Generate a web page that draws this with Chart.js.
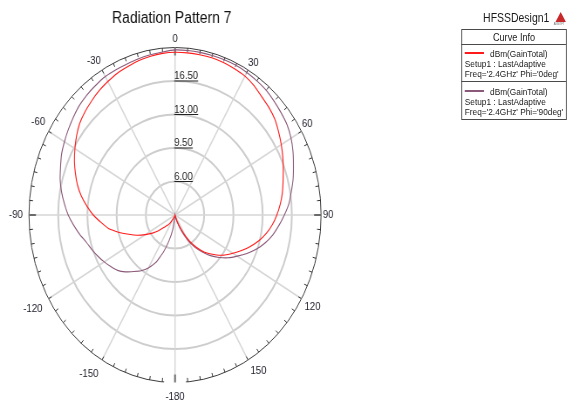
<!DOCTYPE html>
<html><head><meta charset="utf-8">
<script src="https://cdn.jsdelivr.net/npm/chart.js@4.4.1/dist/chart.umd.min.js"></script>
<style>
html,body{margin:0;padding:0;background:#fff;overflow:hidden;width:567px;height:401px;}
#stage{position:absolute;left:0;top:0;width:650px;height:401px;transform:scaleX(0.872);transform-origin:0 0;font-family:"Liberation Sans",Arial,sans-serif;color:#1a1a1a;}
#plot{position:absolute;left:0;top:0;}
.t{position:absolute;white-space:nowrap;line-height:1;}
.hl{position:absolute;height:1px;background:#4a4a4a;}
</style></head><body>
<div id="stage">
<canvas id="plot" width="394" height="401"></canvas>
<div class="t" style="left:554px;top:12px;font-size:12px;">HFSSDesign1</div>
<div style="position:absolute;left:637px;top:12px;width:0;height:0;border-left:6px solid transparent;border-right:6px solid transparent;border-bottom:10px solid #c8282a;"></div>
<div class="t" style="left:635px;top:23px;font-size:3px;color:#666;">ANSOFT</div>
<div style="position:absolute;left:529px;top:29px;width:119px;height:89px;border:1px solid #4a4a4a;"></div>
<div class="t" style="left:529px;width:121px;text-align:center;top:32px;font-size:10.5px;">Curve Info</div>
<div class="hl" style="left:529px;top:44px;width:120px;"></div>
<div style="position:absolute;left:533px;top:52px;width:22px;height:2px;background:#ff1a1a;"></div>
<div class="t" id="n1" style="left:562px;top:48.5px;font-size:9.5px;"></div>
<div class="t" style="left:533px;top:59px;font-size:9.5px;">Setup1 : LastAdaptive</div>
<div class="t" style="left:533px;top:69px;font-size:9.5px;">Freq='2.4GHz' Phi='0deg'</div>
<div class="hl" style="left:529px;top:81px;width:120px;"></div>
<div style="position:absolute;left:533px;top:90px;width:22px;height:2px;background:#8a5878;"></div>
<div class="t" id="n2" style="left:562px;top:86.5px;font-size:9.5px;"></div>
<div class="t" style="left:533px;top:97px;font-size:9.5px;">Setup1 : LastAdaptive</div>
<div class="t" style="left:533px;top:107px;font-size:9.5px;">Freq='2.4GHz' Phi='90deg'</div>
</div>
<script>
// ---- data ----
const angles = [0,5,10,15,20,25,30,35,40,45,50,55,60,65,70,75,80,85,90,95,100,105,110,115,120,125,130,135,140,145,150,155,160,165,170,175,180,185,190,195,200,205,210,215,220,225,230,235,240,245,250,255,260,265,270,275,280,285,290,295,300,305,310,315,320,325,330,335,340,345,350,355];
const gainPhi0 = [19.5,19.5,19.5,19.5,19.45,19.35,19.25,19.0,18.65,18.4,18.1,17.65,
  17.2,16.75,16.3,15.9,15.55,15.15,14.7,14.2,13.6,12.9,12.1,11.3,
  10.5,9.8,9.0,8.2,7.3,6.3,5.1,4.0,3.2,2.6,2.5,2.5,
  2.5,2.5,2.5,2.5,2.5,2.7,3.0,3.5,3.9,4.3,5.0,5.8,
  6.6,7.5,8.4,9.5,10.6,11.4,12.3,13.1,13.9,14.6,15.2,15.8,
  16.35,16.9,17.4,17.75,18.05,18.35,18.6,18.85,19.0,19.2,19.35,19.45];
const gainPhi90 = [19.75,19.75,19.75,19.75,19.75,19.75,19.7,19.6,19.5,19.3,19.1,18.9,
  18.55,18.1,17.6,17.15,16.65,16.2,15.6,15.0,14.4,13.7,12.9,12.0,
  11.1,10.3,9.4,8.5,7.5,6.6,5.5,4.4,3.4,2.7,2.5,2.5,
  2.5,2.6,4.0,5.3,6.7,8.0,8.9,9.6,10.2,10.9,11.5,11.9,
  12.3,12.7,13.1,13.5,14.1,14.7,15.3,15.8,16.3,16.75,17.1,17.5,
  17.8,18.1,18.4,18.7,18.9,19.05,19.2,19.25,19.3,19.4,19.5,19.6];
const ringTicks = [2.5, 6, 9.5, 13, 16.5, 20];
const seriesNames = ['dBm(GainTotal)', 'dBm(GainTotal)'];
const titleText = 'Radiation Pattern 7';

// ---- layout / style ----
const GEOM = {cx: 200.7, cy: 215, radius: 167.5};
const labelPad = {0:2,30:0,60:0.5,90:2,120:4,150:5.5,180:8,210:8,240:8,270:7,300:4.5,330:2.5};
const FONT = '"Liberation Sans", Arial, sans-serif';
document.getElementById('n1').textContent = seriesNames[0];
document.getElementById('n2').textContent = seriesNames[1];

class FixedRadial extends Chart.RadialLinearScale {
  setCenterPoint() {
    this.xCenter = GEOM.cx;
    this.yCenter = GEOM.cy;
    this.drawingArea = GEOM.radius;
  }
}
FixedRadial.id = 'fixedRadial';
Chart.register(FixedRadial);

function angleLabel(a) { return a >= 180 ? String(a - 360) : String(a); }

const polarDecor = {
  id: 'polarDecor',
  beforeDatasetsDraw(chart) {
    const s = chart.scales.r, ctx = chart.ctx, R = s.drawingArea;
    ctx.save();
    // small gap in the outer ring behind the bottom label
    ctx.strokeStyle = '#fff';
    ctx.lineWidth = 4;
    ctx.beginPath();
    ctx.arc(s.xCenter, s.yCenter, R, Math.PI / 2 - 0.075, Math.PI / 2 + 0.075);
    ctx.stroke();
    angles.forEach((a, i) => {
      const major = a % 90 === 0;
      const len = major ? 8 : 4;
      const p1 = s.getPointPosition(i, R), p2 = s.getPointPosition(i, R - len);
      ctx.strokeStyle = major ? '#6a6a6a' : '#333';
      ctx.lineWidth = major ? 2 : 1;
      ctx.beginPath(); ctx.moveTo(p1.x, p1.y); ctx.lineTo(p2.x, p2.y); ctx.stroke();
    });
    ctx.font = '11px ' + FONT;
    ctx.fillStyle = '#222';
    ctx.textAlign = 'left';
    ctx.textBaseline = 'alphabetic';
    s.ticks.forEach(t => {
      if (t.value <= s.min || t.value >= s.max) return;
      const y = s.yCenter - s.getDistanceFromCenterForValue(t.value);
      const x = s.xCenter - 1;
      const txt = t.value.toFixed(2);
      const w = ctx.measureText(txt).width;
      ctx.fillText(txt, x, y - 2);
      ctx.fillRect(x, y - 0.5, w, 1);
    });
    ctx.restore();
  }
};

new Chart(document.getElementById('plot'), {
  type: 'radar',
  data: {
    labels: angles,
    datasets: [
      {label: seriesNames[0], data: gainPhi0, borderColor: '#ff1a1a', borderWidth: 1.1, pointRadius: 0, fill: false, tension: 0.08},
      {label: seriesNames[1], data: gainPhi90, borderColor: '#8a5878', borderWidth: 1.1, pointRadius: 0, fill: false, tension: 0.08}
    ]
  },
  options: {
    responsive: false,
    animation: false,
    devicePixelRatio: 1,
    plugins: {
      legend: {display: false},
      tooltip: {enabled: false},
      title: {display: true, text: titleText, color: '#111', font: {family: FONT, size: 16, weight: 'normal'}, padding: {top: 9, bottom: 0}}
    },
    scales: {
      r: {
        type: 'fixedRadial',
        min: ringTicks[0],
        max: ringTicks[ringTicks.length - 1],
        afterBuildTicks: sc => { sc.ticks = ringTicks.map(v => ({value: v})); },
        ticks: {display: false},
        grid: {
          circular: true,
          color: c => (c.tick && c.tick.value === ringTicks[ringTicks.length - 1]) ? '#3a3a3a' : '#cdcdcd',
          lineWidth: c => (c.tick && c.tick.value === ringTicks[ringTicks.length - 1]) ? 1 : 2
        },
        angleLines: {
          color: '#d6d6d6',
          lineWidth: c => (angles[c.index] % 30 === 0 ? 1.5 : 0)
        },
        pointLabels: {
          callback: (lab, i) => (angles[i] % 30 === 0 ? angleLabel(angles[i]) : ''),
          font: {family: FONT, size: 11},
          color: '#1c1c28',
          padding: c => (labelPad[angles[c.index]] !== undefined ? labelPad[angles[c.index]] : 0)
        }
      }
    }
  },
  plugins: [polarDecor]
});
</script>
</body></html>
